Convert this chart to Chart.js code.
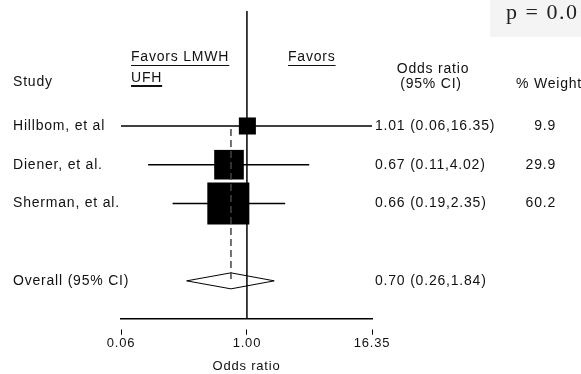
<!DOCTYPE html>
<html>
<head>
<meta charset="utf-8">
<script src="https://cdn.jsdelivr.net/npm/chart.js@4.4.0/dist/chart.umd.min.js"></script>
<style>
  html, body { margin: 0; padding: 0; background: #fff; }
  #wrap { width: 581px; height: 374px; }
</style>
</head>
<body>
<div id="wrap"><canvas id="forest"></canvas></div>
<script>
// dati dello studio
var studies = ['Hillbom, et al', 'Diener, et al.', 'Sherman, et al.'];
var rows = [1, 2, 3];
var oddsRatio = [1.01, 0.67, 0.66];
var ciLow = [0.06, 0.11, 0.19];
var ciHigh = [16.35, 4.02, 2.35];
var weights = [9.9, 29.9, 60.2];
var ciText = ['1.01 (0.06,16.35)', '0.67 (0.11,4.02)', '0.66 (0.19,2.35)'];

var overallLabel = 'Overall (95% CI)';
var overallRow = 5;
var overallOR = 0.70;
var overallLow = 0.26;
var overallHigh = 1.84;
var overallText = '0.70 (0.26,1.84)';

var tickValues = [0.06, 1.00, 16.35];
var tickLabels = ['0.06', '1.00', '16.35'];

var FONT = '"Liberation Sans", Arial, sans-serif';

// linee degli intervalli di confidenza
var datasets = studies.map(function (s, i) {
    return {
        label: s,
        data: [{x: ciLow[i], y: rows[i]}, {x: ciHigh[i], y: rows[i]}],
        showLine: true,
        borderColor: '#000',
        borderWidth: 1.5,
        pointRadius: 0,
        clip: false
    };
});

// quadrati (lato proporzionale alla radice del peso)
datasets.push({
    label: 'OR',
    data: oddsRatio.map(function (v, i) { return {x: v, y: rows[i]}; }),
    pointStyle: 'rect',
    pointRadius: weights.map(function (w) { return 3.83 * Math.sqrt(w); }),
    backgroundColor: '#000',
    borderColor: '#000',
    borderWidth: 0,
    clip: false
});

function underline(ctx, text, x, y) {
    var w = ctx.measureText(text).width;
    ctx.beginPath();
    ctx.moveTo(x, y);
    ctx.lineTo(x + w, y);
    ctx.stroke();
}

var forestPlugin = {
    id: 'forest',
    beforeDraw: function (chart) {
        var ctx = chart.ctx;
        ctx.save();
        ctx.fillStyle = '#f4f4f4';
        ctx.fillRect(490, 0, 91, 37);
        ctx.restore();
        ctx.letterSpacing = '0.8px';
    },
    beforeDatasetsDraw: function (chart) {
        var ctx = chart.ctx, x = chart.scales.x, y = chart.scales.y, a = chart.chartArea;
        ctx.save();
        // linea di riferimento OR = 1
        ctx.strokeStyle = '#000';
        ctx.lineWidth = 1.5;
        ctx.beginPath();
        ctx.moveTo(x.getPixelForValue(1), a.top);
        ctx.lineTo(x.getPixelForValue(1), a.bottom);
        ctx.stroke();
        // diamante complessivo
        var cy = y.getPixelForValue(overallRow);
        ctx.lineWidth = 1;
        ctx.beginPath();
        ctx.moveTo(x.getPixelForValue(overallLow), cy);
        ctx.lineTo(x.getPixelForValue(overallOR), cy - 8);
        ctx.lineTo(x.getPixelForValue(overallHigh), cy);
        ctx.lineTo(x.getPixelForValue(overallOR), cy + 8);
        ctx.closePath();
        ctx.stroke();
        ctx.restore();
    },
    afterDatasetsDraw: function (chart) {
        var ctx = chart.ctx, x = chart.scales.x, y = chart.scales.y;
        ctx.save();
        ctx.strokeStyle = '#444';
        ctx.lineWidth = 1.5;
        ctx.setLineDash([7, 4]);
        ctx.beginPath();
        ctx.moveTo(x.getPixelForValue(overallOR), y.getPixelForValue(rows[0]) + 3);
        ctx.lineTo(x.getPixelForValue(overallOR), y.getPixelForValue(overallRow));
        ctx.stroke();
        ctx.restore();
    },
    afterDraw: function (chart) {
        var ctx = chart.ctx, y = chart.scales.y;
        ctx.save();
        ctx.fillStyle = '#111';
        ctx.strokeStyle = '#111';
        ctx.textBaseline = 'middle';
        ctx.letterSpacing = '0.8px';
        ctx.font = '14px ' + FONT;

        // intestazioni
        ctx.textAlign = 'left';
        ctx.fillText('Study', 13, 82);
        ctx.fillText('Favors LMWH', 131, 57);
        ctx.fillText('UFH', 131, 78);
        ctx.fillText('Favors', 288, 57);
        ctx.lineWidth = 1.2;
        underline(ctx, 'Favors LMWH', 131, 65.5);
        underline(ctx, 'Favors', 288, 65.5);
        ctx.lineWidth = 2;
        underline(ctx, 'UFH', 131, 86);
        ctx.textAlign = 'center';
        ctx.fillText('Odds ratio', 433, 69);
        ctx.fillText('(95% CI)', 431, 84);
        ctx.fillText('% Weight', 549, 84);

        // righe
        studies.forEach(function (s, i) {
            var py = y.getPixelForValue(rows[i]);
            ctx.textAlign = 'left';
            ctx.fillText(s, 13, py);
            ctx.fillText(ciText[i], 375, py);
            ctx.textAlign = 'right';
            ctx.fillText(String(weights[i].toFixed(1)), 556, py);
        });
        var oy = y.getPixelForValue(overallRow);
        ctx.textAlign = 'left';
        ctx.fillText(overallLabel, 13, oy);
        ctx.fillText(overallText, 375, oy);

        // valore p
        ctx.letterSpacing = '1.5px';
        ctx.font = '22px "Liberation Serif", "Times New Roman", serif';
        ctx.fillStyle = '#222';
        ctx.textAlign = 'left';
        ctx.textBaseline = 'alphabetic';
        ctx.fillText('p = 0.0', 506, 19);
        ctx.restore();
    }
};

var chart = new Chart(document.getElementById('forest'), {
    type: 'scatter',
    data: { datasets: datasets },
    options: {
        responsive: true,
        maintainAspectRatio: false,
        animation: false,
        events: [],
        layout: { autoPadding: false, padding: { left: 121, right: 209, top: 11, bottom: 0 } },
        plugins: {
            legend: { display: false },
            tooltip: { enabled: false }
        },
        scales: {
            x: {
                type: 'logarithmic',
                min: 0.06,
                max: 16.35,
                position: 'bottom',
                afterBuildTicks: function (scale) {
                    scale.ticks = tickValues.map(function (v) { return {value: v}; });
                },
                ticks: {
                    autoSkip: false,
                    maxRotation: 0,
                    padding: 1,
                    color: '#111',
                    font: { family: FONT, size: 13 },
                    callback: function (value) {
                        var k = tickValues.indexOf(value);
                        return k >= 0 ? tickLabels[k] : '';
                    }
                },
                grid: {
                    drawOnChartArea: false,
                    drawTicks: true,
                    tickLength: 16,
                    tickBorderDash: [0, 10, 6, 40],
                    tickColor: '#000',
                    tickWidth: 1
                },
                border: { display: true, color: '#000', width: 1.5 },
                title: {
                    display: true,
                    text: 'Odds ratio',
                    color: '#111',
                    font: { family: FONT, size: 13 },
                    padding: { top: 6, bottom: 0 }
                }
            },
            y: {
                type: 'linear',
                min: -1.97,
                max: 5.98,
                reverse: true,
                display: false
            }
        }
    },
    plugins: [forestPlugin]
});
</script>
</body>
</html>
